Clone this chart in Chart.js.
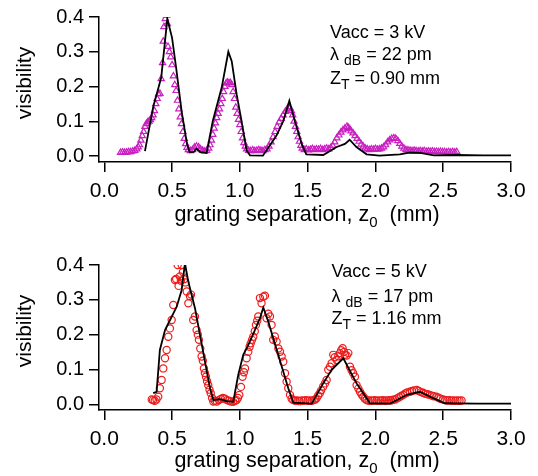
<!DOCTYPE html>
<html>
<head>
<meta charset="utf-8">
<script src="https://cdn.jsdelivr.net/npm/chart.js@4.4.1/dist/chart.umd.min.js"></script>
<style>
  body { margin: 0; background: #fff; }
  canvas { position: absolute; left: 0; }
</style>
</head>
<body>
<canvas id="top" width="538" height="238" style="top:0"></canvas>
<canvas id="bottom" width="538" height="238" style="top:238px"></canvas>
<script>
const xTicks = [0, 0.5, 1.0, 1.5, 2.0, 2.5, 3.0];
const yTicks = [0, 0.1, 0.2, 0.3, 0.4];
const xTitle = [['grating separation, z'], ['0', 1], ['  (mm)']];
const yTitle = 'visibility';

// Vacc = 3 kV: measured visibility (triangles) and model (line)
const meas3 = [
  [0.12,0.010],[0.135,0.011],[0.15,0.010],[0.165,0.011],[0.18,0.012],[0.195,0.012],[0.21,0.014],[0.225,0.016],
  [0.24,0.020],[0.25,0.026],[0.26,0.032],[0.27,0.045],[0.28,0.058],[0.29,0.070],[0.30,0.085],[0.31,0.093],
  [0.32,0.098],[0.33,0.100],[0.34,0.104],[0.35,0.110],[0.36,0.118],[0.37,0.130],[0.38,0.150],[0.39,0.165],
  [0.40,0.178],[0.41,0.180],[0.42,0.222],[0.43,0.268],[0.435,0.330],[0.44,0.372],[0.45,0.395],[0.46,0.405],
  [0.465,0.380],[0.47,0.315],[0.48,0.300],[0.49,0.285],[0.50,0.262],[0.51,0.230],[0.52,0.205],[0.53,0.188],
  [0.54,0.160],[0.55,0.135],[0.56,0.112],[0.57,0.093],[0.58,0.070],[0.59,0.050],[0.60,0.035],[0.61,0.024],
  [0.62,0.018],[0.635,0.015],[0.65,0.018],[0.665,0.025],[0.68,0.028],[0.695,0.026],[0.71,0.020],[0.725,0.016],
  [0.74,0.014],[0.755,0.016],[0.77,0.022],[0.78,0.032],[0.79,0.045],[0.80,0.062],[0.81,0.080],[0.82,0.095],
  [0.83,0.110],[0.84,0.122],[0.85,0.135],[0.86,0.150],[0.87,0.165],[0.88,0.185],[0.89,0.200],[0.90,0.210],
  [0.91,0.212],[0.92,0.210],[0.93,0.211],[0.94,0.205],[0.95,0.185],[0.96,0.165],[0.97,0.140],[0.98,0.122],
  [0.99,0.105],[1.00,0.090],[1.01,0.070],[1.02,0.052],[1.03,0.038],[1.04,0.028],[1.05,0.020],[1.065,0.016],
  [1.08,0.015],[1.095,0.017],[1.11,0.015],[1.125,0.016],[1.14,0.018],[1.155,0.016],[1.17,0.015],[1.185,0.018],
  [1.20,0.020],[1.215,0.028],[1.23,0.040],[1.245,0.055],[1.26,0.070],[1.275,0.085],[1.29,0.098],[1.305,0.108],
  [1.32,0.118],[1.335,0.128],[1.35,0.135],[1.36,0.142],[1.37,0.138],[1.38,0.130],[1.39,0.118],[1.40,0.100],
  [1.41,0.085],[1.42,0.070],[1.43,0.055],[1.44,0.042],[1.45,0.030],[1.46,0.022],[1.475,0.018],[1.49,0.020],
  [1.505,0.017],[1.52,0.019],[1.535,0.021],[1.55,0.018],[1.565,0.020],[1.58,0.019],[1.595,0.021],[1.61,0.018],
  [1.625,0.020],[1.64,0.022],[1.655,0.020],[1.67,0.024],[1.685,0.030],[1.70,0.040],[1.715,0.052],[1.73,0.060],
  [1.745,0.068],[1.76,0.075],[1.775,0.080],[1.79,0.085],[1.80,0.082],[1.81,0.078],[1.82,0.072],[1.835,0.066],
  [1.85,0.058],[1.865,0.050],[1.88,0.042],[1.895,0.034],[1.91,0.028],[1.925,0.022],[1.94,0.020],[1.955,0.018],
  [1.97,0.020],[1.985,0.019],[2.00,0.021],[2.015,0.019],[2.03,0.020],[2.045,0.022],[2.06,0.026],[2.075,0.032],
  [2.09,0.040],[2.105,0.046],[2.12,0.050],[2.135,0.052],[2.15,0.050],[2.165,0.044],[2.18,0.036],[2.195,0.028],
  [2.21,0.022],[2.225,0.018],[2.24,0.017],[2.255,0.016],[2.27,0.015],[2.285,0.016],[2.30,0.015],[2.315,0.014],
  [2.33,0.015],[2.345,0.014],[2.36,0.015],[2.375,0.013],[2.39,0.014],[2.405,0.013],[2.42,0.014],[2.435,0.012],
  [2.45,0.013],[2.465,0.012],[2.48,0.013],[2.495,0.012],[2.51,0.012],[2.525,0.011],[2.54,0.012],[2.555,0.011],
  [2.57,0.012],[2.585,0.011],[2.60,0.012]
];
const model3 = [
  [0.30,0.014],[0.36,0.140],[0.42,0.226],[0.465,0.395],[0.50,0.340],[0.53,0.254],[0.57,0.130],[0.61,0.035],
  [0.63,0.011],[0.66,0.012],[0.68,0.021],[0.71,0.011],[0.755,0.009],[0.80,0.100],[0.866,0.197],[0.915,0.300],
  [0.94,0.273],[0.976,0.178],[1.013,0.100],[1.05,0.016],[1.075,0.002],[1.17,0.001],[1.27,0.059],[1.32,0.100],
  [1.365,0.159],[1.406,0.100],[1.456,0.035],[1.49,0.005],[1.615,0.003],[1.714,0.026],[1.775,0.035],[1.81,0.047],
  [1.86,0.026],[1.935,0.005],[2.03,0.001],[2.18,0.005],[2.25,0.010],[2.33,0.009],[2.43,0.002],[2.60,0.003],
  [2.80,0.002],[3.00,0.002]
];
const notes3 = [
  [['Vacc = 3 kV']],
  [['λ '], ['dB', 1], [' = 22 pm']],
  [['Z'], ['T', 1], [' = 0.90 mm']]
];

// Vacc = 5 kV: measured visibility (circles) and model (line)
const meas5 = [
  [0.35,0.014],[0.36,0.012],[0.372,0.010],[0.385,0.014],[0.398,0.022],[0.41,0.046],[0.423,0.070],[0.435,0.103],
  [0.448,0.132],[0.46,0.156],[0.472,0.194],[0.484,0.218],[0.497,0.242],[0.509,0.285],[0.521,0.357],[0.53,0.360],
  [0.541,0.400],[0.548,0.340],[0.558,0.367],[0.565,0.355],[0.571,0.400],[0.58,0.380],[0.588,0.359],[0.598,0.350],
  [0.608,0.324],[0.62,0.290],[0.632,0.310],[0.64,0.315],[0.656,0.242],[0.669,0.252],[0.681,0.213],[0.69,0.200],
  [0.698,0.185],[0.708,0.160],[0.718,0.137],[0.727,0.125],[0.735,0.103],[0.742,0.090],[0.75,0.079],[0.758,0.066],
  [0.767,0.055],[0.776,0.042],[0.785,0.032],[0.795,0.018],[0.804,0.008],[0.815,0.010],[0.83,0.008],[0.845,0.012],
  [0.86,0.015],[0.875,0.018],[0.89,0.016],[0.905,0.012],[0.92,0.010],[0.935,0.008],[0.951,0.007],[0.965,0.010],
  [0.976,0.012],[0.986,0.018],[0.996,0.027],[1.008,0.050],[1.02,0.079],[1.03,0.092],[1.038,0.103],[1.05,0.132],
  [1.062,0.151],[1.072,0.165],[1.08,0.175],[1.09,0.185],[1.099,0.194],[1.11,0.210],[1.119,0.228],[1.128,0.240],
  [1.136,0.252],[1.148,0.305],[1.16,0.290],[1.173,0.309],[1.185,0.312],[1.197,0.247],[1.21,0.260],[1.222,0.252],
  [1.234,0.228],[1.246,0.185],[1.258,0.195],[1.271,0.180],[1.284,0.160],[1.296,0.151],[1.308,0.137],[1.32,0.122],
  [1.333,0.089],[1.345,0.065],[1.357,0.046],[1.37,0.027],[1.382,0.016],[1.394,0.012],[1.41,0.010],[1.425,0.011],
  [1.44,0.009],[1.455,0.011],[1.47,0.010],[1.485,0.012],[1.50,0.010],[1.515,0.011],[1.53,0.010],[1.545,0.012],
  [1.556,0.014],[1.566,0.017],[1.578,0.025],[1.59,0.032],[1.60,0.040],[1.615,0.051],[1.628,0.060],[1.64,0.070],
  [1.652,0.099],[1.665,0.108],[1.677,0.118],[1.689,0.142],[1.70,0.135],[1.714,0.127],[1.726,0.138],[1.738,0.147],
  [1.748,0.155],[1.758,0.161],[1.768,0.150],[1.775,0.142],[1.788,0.140],[1.80,0.147],[1.812,0.108],[1.824,0.098],
  [1.836,0.089],[1.849,0.079],[1.861,0.055],[1.874,0.045],[1.886,0.036],[1.898,0.028],[1.91,0.022],[1.922,0.016],
  [1.935,0.012],[1.95,0.010],[1.965,0.011],[1.98,0.010],[1.995,0.012],[2.01,0.010],[2.025,0.011],[2.04,0.010],
  [2.055,0.012],[2.07,0.010],[2.085,0.011],[2.10,0.012],[2.115,0.011],[2.13,0.013],[2.145,0.014],[2.16,0.017],
  [2.175,0.020],[2.19,0.024],[2.205,0.027],[2.22,0.031],[2.235,0.034],[2.254,0.036],[2.27,0.038],[2.285,0.040],
  [2.304,0.041],[2.32,0.038],[2.336,0.035],[2.352,0.033],[2.368,0.030],[2.384,0.029],[2.40,0.027],[2.415,0.025],
  [2.43,0.023],[2.45,0.022],[2.465,0.019],[2.48,0.016],[2.50,0.014],[2.515,0.012],[2.53,0.011],[2.545,0.012],
  [2.56,0.010],[2.575,0.011],[2.59,0.010],[2.605,0.011],[2.62,0.010],[2.635,0.011]
];
const model5 = [
  [0.361,0.032],[0.386,0.036],[0.41,0.156],[0.448,0.213],[0.485,0.242],[0.534,0.280],[0.571,0.328],[0.595,0.405],
  [0.62,0.352],[0.669,0.276],[0.706,0.199],[0.743,0.122],[0.78,0.046],[0.804,0.012],[0.853,0.015],[0.903,0.009],
  [0.951,0.007],[0.988,0.084],[1.025,0.142],[1.062,0.170],[1.111,0.213],[1.148,0.247],[1.173,0.278],[1.21,0.237],
  [1.246,0.190],[1.283,0.142],[1.32,0.094],[1.357,0.046],[1.394,0.005],[1.53,0.002],[1.615,0.060],[1.677,0.099],
  [1.763,0.132],[1.861,0.060],[1.96,0.003],[2.107,0.002],[2.23,0.027],[2.328,0.036],[2.43,0.017],[2.51,0.003],
  [2.75,0.002],[3.00,0.002]
];
const notes5 = [
  [['Vacc = 5 kV']],
  [['λ '], ['dB', 1], [' = 17 pm']],
  [['Z'], ['T', 1], [' = 1.16 mm']]
];

const FONT = '"Liberation Sans", Arial, Helvetica, sans-serif';
Chart.defaults.font.family = FONT;
Chart.defaults.color = '#000';

function drawRich(ctx, x, y, parts, size, subSize, drop, center) {
  let w = 0;
  parts.forEach(([t, sub]) => {
    ctx.font = (sub ? subSize : size) + 'px ' + FONT;
    w += ctx.measureText(t).width;
  });
  let cx = center ? x - w / 2 : x;
  parts.forEach(([t, sub]) => {
    ctx.font = (sub ? subSize : size) + 'px ' + FONT;
    ctx.fillText(t, cx, sub ? y + drop : y);
    cx += ctx.measureText(t).width;
  });
}

function textPlugin(notes, noteX, noteY, titleY, yTitleY) {
  return {
    id: 'texts',
    afterDraw(chart) {
      const ctx = chart.ctx;
      ctx.save();
      ctx.fillStyle = '#000';
      ctx.textBaseline = 'alphabetic';
      ctx.textAlign = 'left';
      notes.forEach((line, i) => drawRich(ctx, noteX, noteY[i], line, 18, 14, 5, false));
      const a = chart.chartArea;
      drawRich(ctx, (a.left + a.right) / 2 + 2, titleY, xTitle, 21.5, 15, 6, true);
      ctx.translate(25, yTitleY);
      ctx.rotate(-Math.PI / 2);
      ctx.textAlign = 'center';
      ctx.textBaseline = 'middle';
      ctx.font = '21px ' + FONT;
      ctx.fillText(yTitle, 0, 0);
      ctx.restore();
    }
  };
}

function makeChart(id, meas, model, style, color, yMin, padTop, xAxisH, notes, noteX, noteY, titleY, yTitleY) {
  const axisLine = { display: true, color: '#000', width: 1.5 };
  const grid = { drawOnChartArea: false, drawTicks: true, tickLength: 10, color: '#000', lineWidth: 1.5 };
  return new Chart(document.getElementById(id), {
    type: 'scatter',
    data: {
      datasets: [
        {
          data: model.map(([x, y]) => ({ x, y })),
          showLine: true,
          borderColor: '#000',
          borderWidth: 1.8,
          pointRadius: 0,
          tension: 0
        },
        {
          data: meas.map(([x, y]) => ({ x, y })),
          pointStyle: style,
          pointRadius: 3.6,
          borderColor: color,
          backgroundColor: 'rgba(0,0,0,0)',
          borderWidth: 1.2
        }
      ]
    },
    options: {
      responsive: false,
      animation: false,
      layout: { padding: { top: padTop, right: 27, left: 0, bottom: 0 } },
      plugins: { legend: { display: false }, tooltip: { enabled: false } },
      scales: {
        x: {
          type: 'linear', min: -0.039, max: 3.0,
          border: axisLine,
          grid,
          ticks: { font: { size: 21 }, padding: 7, callback: v => v.toFixed(1), maxRotation: 0 },
          afterBuildTicks: s => { s.ticks = xTicks.map(v => ({ value: v })); },
          afterFit: s => { s.height = xAxisH; }
        },
        y: {
          type: 'linear', min: yMin, max: 0.4,
          border: axisLine,
          grid,
          ticks: { font: { size: 20 }, padding: 5, callback: v => v.toFixed(1) },
          afterBuildTicks: s => { s.ticks = yTicks.map(v => ({ value: v })); },
          afterFit: s => { s.width = 99; }
        }
      }
    },
    plugins: [textPlugin(notes, noteX, noteY, titleY, yTitleY)]
  });
}

makeChart('top', meas3, model3, 'triangle', '#c81fc0', -0.0171, 15.7, 76,
  notes3, 330, [37.5, 60, 84], 221, 83);
makeChart('bottom', meas5, model5, 'circle', '#ee1c1c', -0.0164, 27, 66,
  notes5, 331.5, [38.7, 63.7, 86], 229, 93);
</script>
</body>
</html>
